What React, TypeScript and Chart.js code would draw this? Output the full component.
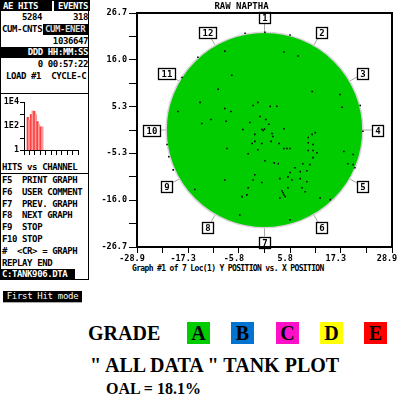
import React, { useEffect, useRef } from 'react';
import { Chart, registerables } from 'chart.js';

Chart.register(...registerables);

const MONO = '"DejaVu Sans Mono", monospace';
const SERIF = '"Liberation Serif", "Times New Roman", serif';

// ---- main tank plot axes ----
const xTickValues = [-28.9, -23.1, -17.3, -11.6, -5.8, 0, 5.8, 11.6, 17.3, 23.1, 28.9];
const xTickLabels = ['-28.9', '', '-17.3', '', '-5.8', '', '5.8', '', '17.3', '', '28.9'];
const yTickValues = [-26.7, -21.4, -16.0, -10.7, -5.3, 0, 5.3, 10.7, 16.0, 21.4, 26.7];
const yTickLabels = ['-26.7', '', '-16.0', '', '-5.3', '', '5.3', '', '16.0', '', '26.7'];

// ---- tank geometry (data units) ----
const tankRadius = 22.3;
const leaderEnd = 24.3;
const zoneLabelRadius = 25.7;
const zoneLabels = ['1', '2', '3', '4', '5', '6', '7', '8', '9', '10', '11', '12'];
const zoneAngles = [0, 30, 60, 90, 120, 150, 180, 210, 240, 270, 300, 330];

// ---- AE hit locations ----
const dotX = [-9.0, -2.6, -1.5, 1.3, 2.8, -7.6, -1.0, 0.3, -12.1, -8.7, -3.3, 1.0, -14.2, -4.9, -0.3, -0.6, 0.0, -2.2, 1.7, 4.4, 1.9, 10.8, 11.5, 9.9, -2.2, 1.5, 3.3, 9.9, -2.8, -0.6, 11.0, 4.4, 5.1, 5.8, -8.5, -1.5, 9.9, 11.0, 11.9, -3.7, 11.0, 0.1, 2.2, 3.1, 8.7, 10.3, 6.9, 5.8, 8.1, 9.6, -2.2, 5.3, 8.1, -2.6, 3.5, 6.2, -0.6, 9.6, 5.3, 8.5, -3.7, 9.2, 4.2, 4.4, 4.7, 4.0, -4.0, -5.1, 3.5, -4.4, 0.1, 5.8, -9.0, 4.4, 7.6, -15.1, 17.6, 21.7, 22.3, 18.0, 20.1, 18.9, 20.1, 20.5, -18.7, -19.6, -14.6, -22.1, -21.7, -20.7, -7.4, 10.8, 17.1, -10.5, 14.9, 12.6, 5.8, -5.6, -15.8, -9.0];
const dotY = [4.9, 5.6, 6.3, 5.4, 5.4, 4.2, 3.1, 2.4, 2.4, 2.0, 1.7, 1.3, 1.5, 0.1, -0.1, 0.1, 0.2, -1.0, -0.8, 0.3, -1.5, -1.0, -0.6, -1.7, -2.6, -2.6, -3.1, -2.9, -3.1, -3.1, -3.3, -4.2, -4.2, -4.2, -4.2, -4.5, -4.7, -4.7, -5.2, -5.4, -6.3, -7.0, -7.5, -7.7, -7.7, -7.9, -8.6, -9.7, -9.5, -9.3, -10.2, -10.7, -11.1, -11.4, -11.1, -11.4, -12.0, -11.8, -13.2, -13.2, -13.2, -14.1, -14.3, -14.8, -15.2, -13.9, -14.8, -15.2, -15.5, 22.1, 22.3, 21.7, 18.0, 17.8, 16.9, 16.6, 5.2, 5.6, -0.3, -4.9, -5.6, -7.7, -7.9, -8.6, 12.0, 4.2, 6.3, -3.3, -6.1, -9.1, 12.5, 8.8, 8.1, 9.3, -15.9, -15.5, -20.5, -19.4, -13.6, -11.4];

// ---- hits vs channel histogram ----
const histChannels = [7, 10, 13, 16, 19, 22, 25, 28, 31, 34];
const histHits = [530, 310, 920, 1800, 1700, 920, 235, 135, 85, 85];
const histXTicks = [0, 10, 20, 30, 40, 50, 60, 70, 80, 90, 100];
const histYTicks = [1, 10, 100, 1000, 10000];
const histYLabels = ['1', '', '1E2', '', '1E4'];

// ---- grade legend ----
const gradeLetters = ['A', 'B', 'C', 'D', 'E'];
const gradeColors = ['#00CC00', '#0074D0', '#FF10C8', '#FFFF00', '#FF0000'];

const tankColor = '#00CC00';

function MainPlot() {
  const ref = useRef<HTMLCanvasElement>(null);
  useEffect(() => {
    const canvas = ref.current!;
    const tankPlugin = {
      id: 'tankPlot',
      beforeDatasetsDraw(chart: any) {
        const { ctx, scales } = chart;
        const px = (v: number) => scales.x.getPixelForValue(v);
        const py = (v: number) => scales.y.getPixelForValue(v);
        const cx = px(0), cy = py(0);
        const rx = px(tankRadius) - cx, ry = cy - py(tankRadius);
        ctx.save();
        ctx.strokeStyle = '#a8a8a8';
        ctx.lineWidth = 1;
        zoneAngles.forEach((a) => {
          const t = (a * Math.PI) / 180;
          const s = Math.sin(t), c = Math.cos(t);
          ctx.beginPath();
          ctx.moveTo(px(tankRadius * s), py(tankRadius * c));
          ctx.lineTo(px(leaderEnd * s), py(leaderEnd * c));
          ctx.stroke();
        });
        ctx.beginPath();
        ctx.ellipse(cx, cy, rx, ry, 0, 0, Math.PI * 2);
        ctx.fillStyle = tankColor;
        ctx.fill();
        ctx.lineWidth = 1.5;
        ctx.strokeStyle = '#dcd2dc';
        ctx.stroke();
        ctx.restore();
      },
      afterDatasetsDraw(chart: any) {
        const { ctx, scales, chartArea } = chart;
        const px = (v: number) => scales.x.getPixelForValue(v);
        const py = (v: number) => scales.y.getPixelForValue(v);
        ctx.save();
        ctx.font = `bold 9px ${MONO}`;
        ctx.textAlign = 'center';
        ctx.textBaseline = 'middle';
        zoneLabels.forEach((lab, i) => {
          const t = (zoneAngles[i] * Math.PI) / 180;
          const bx = px(zoneLabelRadius * Math.sin(t));
          const by = py(zoneLabelRadius * Math.cos(t));
          const w = lab.length === 1 ? 11 : 17;
          const h = 11;
          const l = Math.round(bx - w / 2) + 0.5;
          const tp = Math.round(by - h / 2) + 0.5;
          ctx.fillStyle = '#fff';
          ctx.fillRect(l, tp, w, h);
          ctx.strokeStyle = '#000';
          ctx.lineWidth = 1.3;
          ctx.strokeRect(l, tp, w, h);
          ctx.fillStyle = '#000';
          ctx.fillText(lab, l + w / 2, tp + h / 2 + 0.5);
        });
        ctx.strokeStyle = '#000';
        ctx.lineWidth = 2;
        ctx.strokeRect(chartArea.left, chartArea.top, chartArea.right - chartArea.left, chartArea.bottom - chartArea.top);
        ctx.restore();
      },
    };
    const tickFont = { family: MONO, size: 8.5, weight: 'bold' as const };
    const chart = new Chart(canvas, {
      type: 'scatter',
      data: {
        datasets: [
          {
            data: dotX.map((x, i) => ({ x, y: dotY[i] })),
            pointStyle: 'rect',
            pointRadius: 1.1,
            backgroundColor: '#000',
            borderWidth: 0,
          },
        ],
      },
      options: {
        animation: false,
        responsive: false,
        devicePixelRatio: 1,
        layout: { padding: { left: 0, right: 7, top: 0, bottom: 0 } },
        plugins: {
          legend: { display: false },
          tooltip: { enabled: false },
          title: {
            display: true,
            text: 'RAW NAPTHA',
            color: '#000',
            font: { family: MONO, size: 9, weight: 'bold', lineHeight: 1.2 },
            padding: { top: 1.5, bottom: 0.7 },
          },
        },
        scales: {
          x: {
            type: 'linear',
            min: -28.9,
            max: 28.9,
            afterBuildTicks: (s: any) => {
              s.ticks = xTickValues.map((v) => ({ value: v }));
            },
            afterFit: (s: any) => {
              s.height = 17;
              s.paddingLeft = 0;
              s.paddingRight = 0;
            },
            ticks: {
              autoSkip: false,
              maxRotation: 0,
              padding: 1,
              labelOffset: -5,
              color: '#000',
              font: tickFont,
              callback: (_v: any, i: number) => xTickLabels[i],
            },
            grid: { drawOnChartArea: false, drawTicks: true, tickLength: 6, color: '#000', lineWidth: 1 },
            border: { display: false },
          },
          y: {
            type: 'linear',
            min: -26.7,
            max: 26.7,
            afterBuildTicks: (s: any) => {
              s.ticks = yTickValues.map((v) => ({ value: v }));
            },
            afterFit: (s: any) => {
              s.width = 46;
              s.paddingTop = 0;
              s.paddingBottom = 0;
            },
            ticks: {
              autoSkip: false,
              padding: 2,
              color: '#000',
              font: tickFont,
              callback: (_v: any, i: number) => yTickLabels[i],
            },
            grid: { drawOnChartArea: false, drawTicks: true, tickLength: 8, color: '#000', lineWidth: 1 },
            border: { display: false },
          },
        },
      } as any,
      plugins: [tankPlugin],
    });
    return () => chart.destroy();
  }, []);
  return <canvas ref={ref} width={308} height={264} style={{ position: 'absolute', left: 91, top: 0 }} />;
}

function HitsHistogram() {
  const ref = useRef<HTMLCanvasElement>(null);
  useEffect(() => {
    const canvas = ref.current!;
    const chart = new Chart(canvas, {
      type: 'bar',
      data: {
        datasets: [
          {
            data: histChannels.map((c, i) => ({ x: c, y: histHits[i] })),
            backgroundColor: histChannels.map((_c, i) => (i % 2 === 0 ? '#FF4040' : '#FF9C9C')),
            borderWidth: 0,
            barPercentage: 1,
            categoryPercentage: 1,
          },
        ],
      },
      options: {
        animation: false,
        responsive: false,
        devicePixelRatio: 1,
        layout: { padding: { left: 0, right: 11, top: 7, bottom: 0 } },
        plugins: { legend: { display: false }, tooltip: { enabled: false } },
        scales: {
          x: {
            type: 'linear',
            min: 0,
            max: 100,
            offset: false,
            afterBuildTicks: (s: any) => {
              s.ticks = histXTicks.map((v) => ({ value: v }));
            },
            afterFit: (s: any) => {
              s.height = 6;
              s.paddingLeft = 0;
              s.paddingRight = 0;
            },
            ticks: { display: false },
            grid: { offset: false, drawOnChartArea: false, drawTicks: true, tickLength: 5, color: '#000' },
            border: { display: true, color: '#000', width: 1 },
          },
          y: {
            type: 'logarithmic',
            min: 1,
            max: 10000,
            afterBuildTicks: (s: any) => {
              s.ticks = histYTicks.map((v) => ({ value: v }));
            },
            afterFit: (s: any) => {
              s.width = 23;
              s.paddingTop = 0;
              s.paddingBottom = 0;
            },
            ticks: {
              autoSkip: false,
              padding: 1,
              color: '#000',
              font: { family: MONO, size: 8.5, weight: 'bold' },
              callback: (_v: any, i: number) => histYLabels[i],
            },
            grid: { drawOnChartArea: false, drawTicks: true, tickLength: 4, color: '#000' },
            border: { display: true, color: '#000', width: 1 },
          },
        },
      } as any,
    });
    return () => chart.destroy();
  }, []);
  return <canvas ref={ref} width={88} height={61} style={{ position: 'absolute', left: 1, top: 95 }} />;
}

const baseText: React.CSSProperties = {
  position: 'absolute',
  height: 10,
  lineHeight: '10px',
  whiteSpace: 'pre',
  font: `bold 9px ${MONO}`,
  letterSpacing: '-0.4px',
  color: '#000',
};

function T(props: { text: string; left?: number; right?: number; cy: number; color?: string }) {
  const st: React.CSSProperties = { ...baseText, top: props.cy - 5 };
  if (props.left !== undefined) st.left = props.left;
  if (props.right !== undefined) st.right = 399 - props.right;
  if (props.color) st.color = props.color;
  return <div style={st}>{props.text}</div>;
}

const menuLines = ['F5  PRINT GRAPH', 'F6  USER COMMENT', 'F7  PREV. GRAPH', 'F8  NEXT GRAPH', 'F9  STOP', 'F10 STOP', '#  <CR> = GRAPH', 'REPLAY END'];

function LeftPanel() {
  const box = (left: number, top: number, width: number, height: number, bg: string) => (
    <div style={{ position: 'absolute', left, top, width, height, background: bg }} />
  );
  return (
    <>
      <div style={{ position: 'absolute', left: 0, top: 0, width: 89, height: 280, border: '1px solid #000', boxSizing: 'border-box' }} />
      {box(0, 0, 52, 11, '#000')}
      {box(54, 0, 36, 11, '#000')}
      <T text="AE HITS" left={3} cy={6} color="#fff" />
      <T text="EVENTS" right={88} cy={6} color="#fff" />
      <T text="5284" right={42} cy={17} />
      <T text="318" right={88} cy={17} />
      <T text="CUM-CNTS" left={2} cy={29} />
      {box(43, 24, 46, 11, '#000')}
      <T text="CUM-ENER" left={45} cy={29} color="#d8d8d8" />
      <T text="1036647" right={88} cy={41} />
      {box(0, 47, 89, 11, '#000')}
      <T text="DDD HH:MM:SS" right={88} cy={52} color="#fff" />
      <T text="0 00:57:22" right={88} cy={64} />
      <T text="LOAD #1  CYCLE-C" left={6} cy={76} />
      {box(0, 93, 89, 1, '#000')}
      <T text="HITS vs CHANNEL" left={2} cy={167} />
      {box(0, 173, 89, 1, '#000')}
      {menuLines.map((m, i) => (
        <T key={m} text={m} left={2} cy={180 + i * 11.8} />
      ))}
      {box(0, 269, 75, 11, '#000')}
      <T text="C:TANK906.DTA" left={2} cy={274} color="#fff" />
      <div
        style={{
          position: 'absolute',
          left: 3,
          top: 291,
          width: 79,
          height: 11,
          background: '#000',
          borderBottom: '1px solid #aaa',
          color: '#fff',
          font: `9px ${MONO}`,
          lineHeight: '11px',
          textAlign: 'center',
          whiteSpace: 'pre',
          letterSpacing: '-0.3px',
        }}
      >
        First Hit mode
      </div>
    </>
  );
}

function GradeLegend() {
  const serifBold = (size: number): React.CSSProperties => ({
    position: 'absolute',
    font: `bold ${size}px ${SERIF}`,
    lineHeight: `${size}px`,
    whiteSpace: 'pre',
    color: '#000',
  });
  return (
    <>
      <div style={{ ...serifBold(20), left: 88, top: 323 }}>GRADE</div>
      {gradeLetters.map((g, i) => (
        <div
          key={g}
          style={{
            position: 'absolute',
            left: Math.round(187 + i * 44.3),
            top: 322,
            width: 23,
            height: 22,
            background: gradeColors[i],
            font: `bold 20px ${SERIF}`,
            lineHeight: '22px',
            textAlign: 'center',
            color: '#000',
          }}
        >
          {g}
        </div>
      ))}
      <div style={{ ...serifBold(20), left: 90, top: 355 }}>{'" ALL DATA " TANK PLOT'}</div>
      <div style={{ ...serifBold(16), left: 106, top: 381 }}>OAL = 18.1%</div>
    </>
  );
}

export default function App() {
  return (
    <div style={{ position: 'fixed', left: 0, top: 0, width: 399, height: 404, background: '#fff', overflow: 'hidden' }}>
      <LeftPanel />
      <HitsHistogram />
      <MainPlot />
      <div style={{ ...baseText, left: 132, top: 264, font: `bold 8px ${MONO}`, letterSpacing: '-0.65px' }}>
        Graph #1 of 7 Loc(1) Y POSITION vs. X POSITION
      </div>
      <GradeLegend />
    </div>
  );
}
